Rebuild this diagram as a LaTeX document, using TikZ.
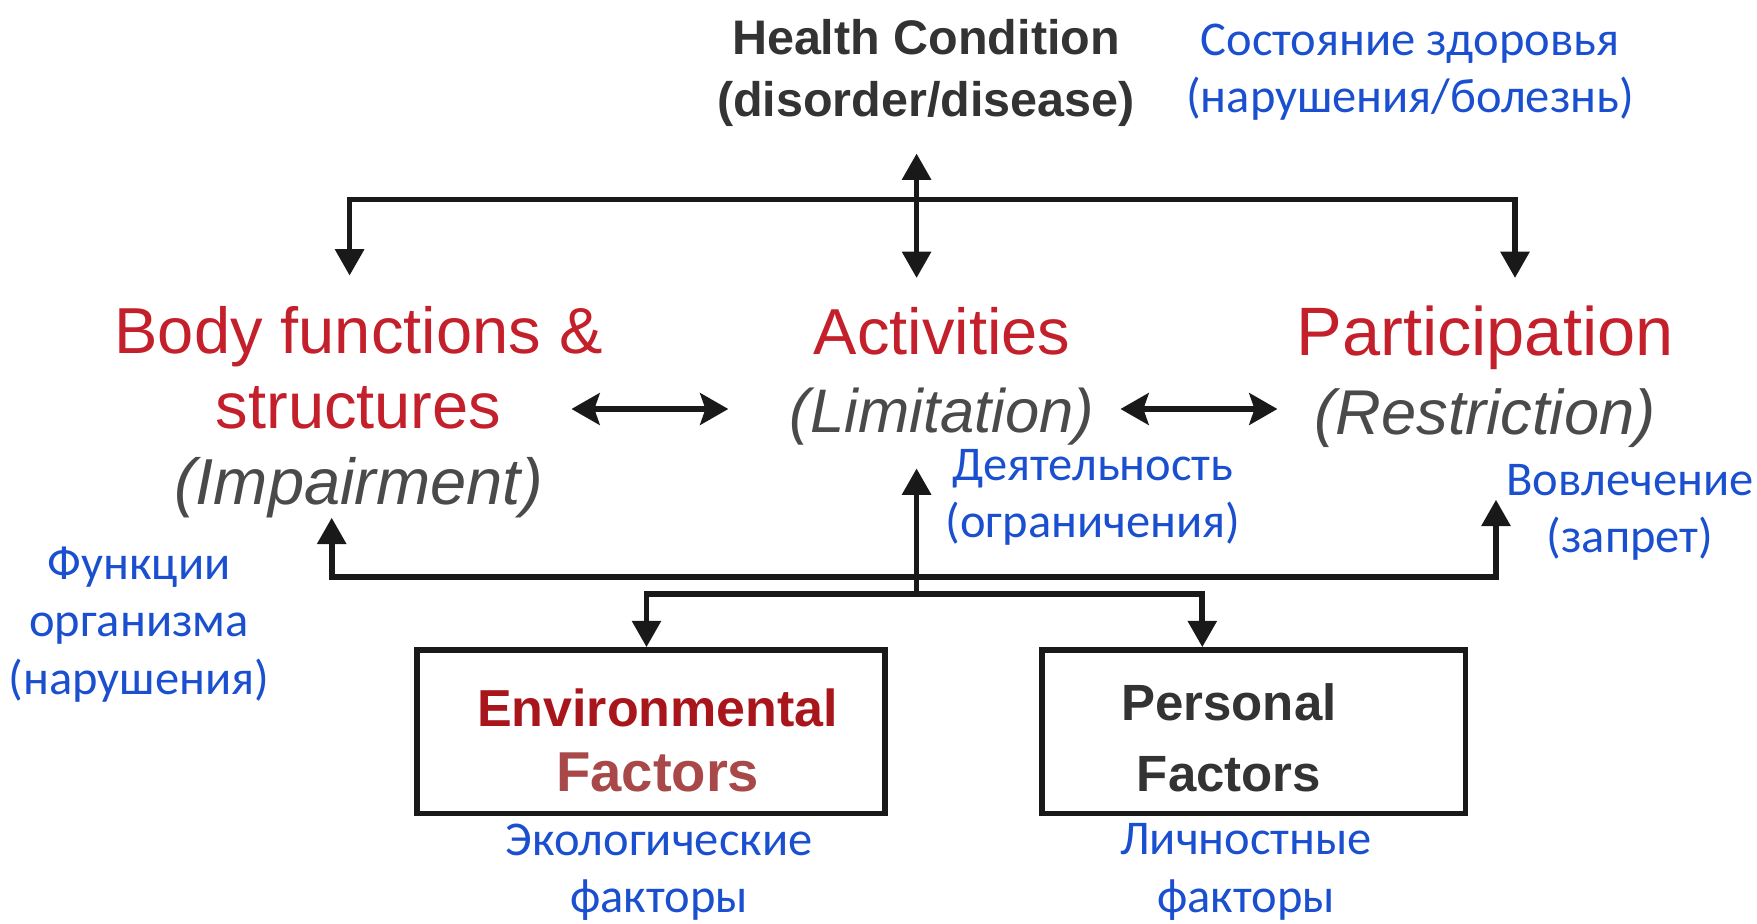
\documentclass[tikz,border=0pt]{standalone}
\usepackage{fontspec}
\setmainfont{Liberation Sans}
\newfontfamily\rufont{Carlito}
\usetikzlibrary{arrows.meta}
\definecolor{icfred}{HTML}{C3202B}
\definecolor{icfdark}{HTML}{A8161C}
\definecolor{icfrose}{HTML}{A84848}
\definecolor{icfgray}{HTML}{333333}
\definecolor{icfitalic}{HTML}{4A4A4A}
\definecolor{rublue}{HTML}{1A4FCF}

\begin{document}
\begin{tikzpicture}[
    >={Triangle[length=7.5pt,width=8pt]},
    link/.style={line width=1.6pt,draw=black!90},
    mutual/.style={line width=1.6pt,draw=black!90,
      {Stealth[length=8pt,width=9pt,inset=1.5pt]}-{Stealth[length=8pt,width=9pt,inset=1.5pt]}},
    heading/.style={inner sep=0pt,align=center,text=icfgray,
      font=\fontsize{13.8}{17.6}\selectfont\bfseries},
    part/.style={inner sep=0pt,align=center,text=icfitalic,
      font=\fontsize{18.5}{21.5}\selectfont},
    ru/.style={inner sep=0pt,align=center,text=rublue,
      font=\rufont\fontsize{13.8}{16.3}\selectfont},
    factorbox/.style={draw=black!90,line width=1.6pt,minimum width=#1,
      minimum height=1.635cm,inner sep=0pt},
    factor/.style={inner sep=0pt,align=center}
  ]
  \useasboundingbox (0,0) rectangle (17.57,9.23);
  \node[heading] (health)   at (9.26,8.503)  {Health Condition\\(disorder/disease)};
  \node[ru]      (ruhealth) at (14.10,8.505) {Состояние здоровья\\(нарушения/болезнь)};
  \node[part]    (body)     at (3.585,5.11)
      {\textcolor{icfred}{Body functions \&}\\\textcolor{icfred}{structures}\\\textit{(Impairment)}};
  \node[part,font=\fontsize{18.5}{22.3}\selectfont] (activ)  at (9.42,5.464)
      {\textcolor{icfred}{Activities}\\{\fontsize{17.5}{22.3}\selectfont\textit{(Limitation)}}};
  \node[part,font=\fontsize{18.5}{22.3}\selectfont] (partic) at (14.85,5.464)
      {\textcolor{icfred}{\fontsize{19.5}{22.3}\selectfont Participation}\\{\fontsize{18}{22.3}\selectfont\textit{(Restriction)}}};
  \node[ru]      (ruactiv)  at (10.93,4.26)  {Деятельность\\(ограничения)};
  \node[ru]      (rupartic) at (16.30,4.104) {Вовлечение\\(запрет)};
  \node[ru]      (rubody)   at (1.39,2.984)  {Функции\\организма\\(нарушения)};
  % factor boxes
  \node[factorbox=4.684cm] (env)  at (6.51,1.9125)  {};
  \node[factorbox=4.236cm] (pers) at (12.538,1.9125) {};
  \node[factor,text=icfdark,font=\bfseries\fontsize{16}{18.5}\selectfont] (envtxt) at (6.577,1.825)
      {{\fontsize{14.8}{18.5}\selectfont Environmental}\\{\color{icfrose}Factors}};
  \node[factor,text=icfgray,font=\bfseries\fontsize{14.5}{20}\selectfont] (perstxt) at (12.29,1.8525)
      {Personal\\Factors};
  \node[ru]      (ruenv)    at (6.59,0.51)   {Экологические\\факторы};
  \node[ru]      (rupers)   at (12.46,0.51)  {Личностные\\факторы};
  % ends and corners of the connectors
  \coordinate (hctip)  at (9.166,7.695);
  \coordinate (actop)  at (9.166,6.45);
  \coordinate (bftop)  at (3.496,6.474);
  \coordinate (barL)   at (3.496,7.235);
  \coordinate (barR)   at (15.15,7.235);
  \coordinate (patop)  at (15.15,6.45);
  \coordinate (bfbot)  at (3.317,4.053);
  \coordinate (lowL)   at (3.317,3.46);
  \coordinate (lowR)   at (14.96,3.46);
  \coordinate (pabot)  at (14.96,4.233);
  \coordinate (trunk)  at (9.166,3.29);
  \coordinate (acbot)  at (9.166,4.546);
  \coordinate (low2L)  at (6.465,3.29);
  \coordinate (low2R)  at (12.023,3.29);
  \coordinate (bfR)    at (5.715,5.14);
  \coordinate (acL)    at (7.283,5.14);
  \coordinate (acR)    at (11.205,5.14);
  \coordinate (paL)    at (12.774,5.14);
  \draw[link,<->] (hctip) -- (actop);
  \draw[link,<->] (bftop) -- (barL) -- (barR) -- (patop);
  \draw[link,<->] (bfbot) -- (lowL) -- (lowR) -- (pabot);
  \draw[link,->]  (trunk) -- (acbot);
  \draw[link,<->] (env.north -| low2L) -- (low2L) -- (low2R) -- (pers.north -| low2R);
  \draw[mutual] (bfR) -- (acL);
  \draw[mutual] (acR) -- (paL);
\end{tikzpicture}
\end{document}
